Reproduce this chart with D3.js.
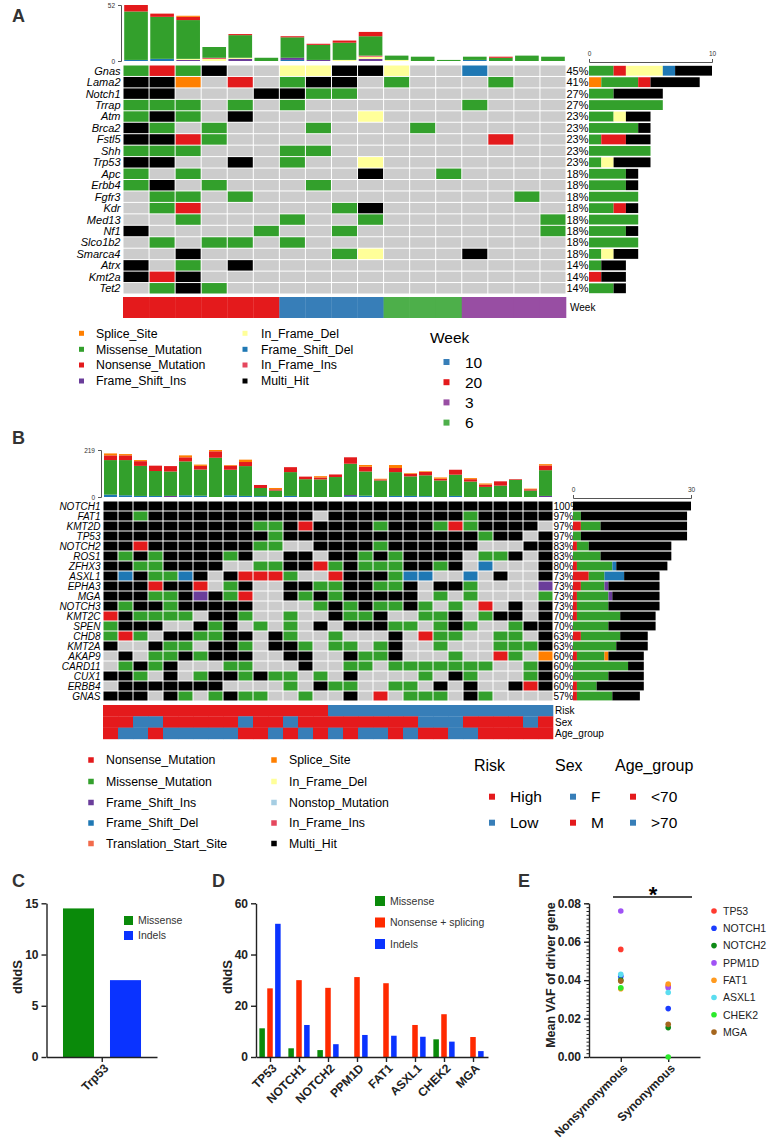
<!DOCTYPE html>
<html><head><meta charset="utf-8">
<script src="https://cdn.jsdelivr.net/npm/d3@7"></script>
<style>body{margin:0;background:#fff}svg{display:block}</style>
</head><body><svg id="c" width="782" height="1146"></svg>
<script>
// ---------------- DATA ----------------
const vcColor = {G:"#33A02C",R:"#E31A1C",O:"#FF7F00",B:"#1F78B4",P:"#6A3D9A",Y:"#FFFF99",I:"#E5475D",N:"#A6CEE3",T:"#F26B4B",K:"#000000"};
const vcName = {G:"Missense_Mutation",R:"Nonsense_Mutation",O:"Splice_Site",B:"Frame_Shift_Del",P:"Frame_Shift_Ins",Y:"In_Frame_Del",I:"In_Frame_Ins",N:"Nonstop_Mutation",T:"Translation_Start_Site",K:"Multi_Hit"};

// Panel A
const aGenes = ["Gnas","Lama2","Notch1","Trrap","Atm","Brca2","Fstl5","Shh","Trp53","Apc","Erbb4","Fgfr3","Kdr","Med13","Nf1","Slco1b2","Smarca4","Atrx","Kmt2a","Tet2"];
const aMatrix = [
"GRGK..YYKKY..B...","KKO.R.GKK.G...G..","KK...KKGG........","GGG.G.G......G...",
"GKG.K....Y.......","KG.G...G...G.....","KKRG..........R..","GGG...GG.........",
"KK..K.G..Y.......","G.G......K..G....","GK.G...G.........",".GG.G..........G.",
".GR.....GK.......","..G...G..G......G","K....G..G.......G",".G.GG.G..........",
"..K.....GY...K...","K.G.K............","KRK..............",".GKG............."];
const aTotalSamples = 22;
const aWeek = ["20","20","20","20","20","20","10","10","10","10","6","6","6","3","3","3","3"];
const aWeekLevels = ["10","20","3","6"];
const aWeekColors = ["#377EB8","#E41A1C","#984EA3","#4DAF4A"];
const aLegendCodes = ["O","G","R","P","Y","B","I","K"];
const aTmbMissense = [45,39,36,10,21,3,19,14,16,18,4,4,1,3,3,5,4];
const aTmbNonsense = [6,3,3,0,1,0,1,1,2,4,0,0,0,0,1,0,0];
const aTmbSplice   = [0,0,1,0,0,0,0,0,0,0,0,0,0,0,0,0,0];
const aTmbFSdel    = [1,2,0,0,0,0,1,0,0,0,0,0,0,1,0,0,0];
const aTmbFSins    = [0,0,1,0,2,0,2,1,0,2,0,0,0,0,0,0,0];
const aTmbIFdel    = [0,0,1,2,1,0,0,0,1,2,1,0,0,0,0,0,0];
const aTmbIFins    = [0,0,0,1,0,0,0,0,0,1,0,0,0,0,0,0,0];
const aTmbMax = 52, aRightMax = 10;

// Panel B
const bGenes = ["NOTCH1","FAT1","KMT2D","TP53","NOTCH2","ROS1","ZFHX3","ASXL1","EPHA3","MGA","NOTCH3","KMT2C","SPEN","CHD8","KMT2A","AKAP9","CARD11","CUX1","ERBB4","GNAS"];
const bMatrix = [
"KKKKK KKKKK KKKKK KKKKK KKKKK KKKKK",
"KKGKK KKKKK KKKK. KKKKK KKKKG KKKKK",
"KKKKK KKKKK GGKRK KKKGK KKGRG KKKK.",
"KKKKK KKKKK KGKKK KKKKK KKKKK GKK.K",
"KKRKK KKKKK GG..K KKKGK KKKKK ...KK",
"KGKGK KKKGK ..KK. KKGKG KKKK. GGK.K",
"KKGGK KKK.. GGKKR GKGGG KKGK. B...K",
"KBKGG BK.KR RRG.. RKKKG BB..B .K..K",
"KKKRK KR.GK ..KKG GKKGG K.KKG ....P",
"KKKGG KPKGR ..KGK GKKKK K.G.G ....G",
"KGKKG KKKKK ....G KGKGG KG.G. R.K.K",
"RKGGG G.KKG ..G.. KGGK. .GGK. GKK.K",
"GKKK. .KGK. G.G.K .KKKG G.GKG ..GKK",
"GRG.K KGGKK .KG.. G...K .RGG. .GG.K",
"K..KG G.KKG .KKG. GG.GK ..G.. .GGGK",
".K.GG KGKKK ..KK. .KGGK ...G. .RG.O",
".GKGK ...GG ...K. .GG.G GGGGG G..GK",
"KKG.K .GKKG KGG.G .K... .G.KG ...GK",
".KKKK KKK.. ..G.K GG..G G.K.K ..KRK",
"KKK.K G.GKG G..G. .K.R. GGG.K G...."];
const bTotalSamples = 30;
const bLegendCodes = ["R","G","P","B","T","O","Y","N","I","K"];
const bTmbMissense = [161,164,140,116,114,158,122,183,119,139,38,30,111,83,82,93,146,113,77,111,91,97,77,99,72,47,53,80,30,120];
const bTmbNonsense = [22,22,22,25,25,19,17,30,19,19,14,6,23,12,9,12,30,22,5,19,12,16,8,23,11,11,20,3,6,22];
const bTmbSplice   = [9,6,5,0,0,9,6,6,3,11,0,6,0,0,6,0,0,8,3,14,3,3,6,0,5,5,0,0,3,6];
const bTmbFSdel    = [11,8,5,5,0,8,6,0,8,5,4,0,5,0,0,0,4,6,0,5,5,4,0,5,0,0,0,0,0,0];
const bTmbFSins    = [0,0,0,0,5,0,0,0,0,0,0,0,0,0,0,0,5,0,0,0,0,0,0,0,0,0,0,0,0,5];
const bTmbMax = 219, bRightMax = 30;
const bRisk = ["High","High","High","High","High","High","High","High","High","High","High","High","High","High","High","Low","Low","Low","Low","Low","Low","Low","Low","Low","Low","Low","Low","Low","Low","Low"];
const bSex  = ["M","M","F","F","M","M","M","M","M","F","M","M","F","M","M","M","M","M","M","M","M","F","F","F","M","M","M","M","F","M"];
const bAge  = ["<70",">70",">70","<70",">70",">70",">70",">70",">70","<70","<70",">70","<70",">70","<70",">70","<70",">70",">70","<70",">70","<70","<70",">70",">70","<70","<70","<70","<70","<70"];
const bAnnoColors = {High:"#E41A1C",Low:"#377EB8",F:"#377EB8",M:"#E41A1C","<70":"#E41A1C",">70":"#377EB8"};

// Panel C
const cCategory = ["Trp53"];
const cSeries = ["Missense","Indels"];
const cValues = [14.5, 7.5];
const cColors = ["#0A8A0A","#0A33FF"];

// Panel D
const dGenes = ["TP53","NOTCH1","NOTCH2","PPM1D","FAT1","ASXL1","CHEK2","MGA"];
const dSeries = ["Missense","Nonsense + splicing","Indels"];
const dMissense = [11.2,3.4,2.7,0,0,0,6.9,0];
const dNonsense = [26.8,30,27,31.2,28.8,12.5,16.7,7.8];
const dIndels   = [52,12.5,5,8.6,8.3,7.9,6,2.3];
const dColors = ["#0A8A0A","#FF2A00","#0A33FF"];

// Panel E
const eGroups = ["Nonsynonymous","Synonymous"];
const eGenes = ["TP53","NOTCH1","NOTCH2","PPM1D","FAT1","ASXL1","CHEK2","MGA"];
const eNonsyn = [0.056,0.042,0.040,0.076,0.0355,0.043,0.036,0.0395];
const eSyn    = [0.037,0.0252,0.0153,0.036,0.038,0.0336,0.0,0.017];
const eColors = ["#FF3B30","#1B3DFF","#0E8A16","#A052F5","#FF9A1F","#5BDDF0","#2BEA2B","#A5661E"];

// ---------------- DRAW ----------------
const svg = d3.select("#c");
const SANS = '"Liberation Sans", Arial, Helvetica, sans-serif';
svg.attr("font-family", SANS);

function drawOnco(o){
  const g = svg.append("g");
  const rows = o.matrix.map(r => r.replace(/ /g,"").split(""));
  const n = rows[0].length;
  const x = d3.scaleBand().domain(d3.range(n)).range([o.gx0,o.gx1]);
  const y = d3.scaleBand().domain(o.genes).range([o.gy0,o.gy1]);
  const cells = [];
  o.genes.forEach((gn,gi)=>rows[gi].forEach((c,i)=>cells.push({gn,i,c})));
  g.selectAll("rect.cell").data(cells).join("rect")
    .attr("x",d=>x(d.i)+o.gap/2).attr("y",d=>y(d.gn)+o.gap/2)
    .attr("width",x.bandwidth()-o.gap).attr("height",y.bandwidth()-o.gap)
    .attr("fill",d=>d.c==="."?"#CCCCCC":vcColor[d.c]);
  g.selectAll("text.gene").data(o.genes).join("text")
    .attr("x",o.gx0-2.5).attr("y",d=>y(d)+y.bandwidth()/2).attr("dy","0.36em")
    .attr("text-anchor","end").attr("font-style","italic").attr("font-size",o.fs).text(d=>d);
  const counts = rows.map(r=>{const m={};r.forEach(c=>{if(c!==".")m[c]=(m[c]||0)+1;});return m;});
  const totals = counts.map(m=>d3.sum(Object.values(m)));
  g.selectAll("text.pct").data(totals).join("text")
    .attr("x",o.gx1+0.5).attr("y",(d,i)=>y(o.genes[i])+y.bandwidth()/2).attr("dy","0.36em")
    .attr("font-size",o.fs).text(d=>Math.round(d/o.nTotal*100)+"%");
  const xr = d3.scaleLinear().domain([0,o.rMax]).range([o.rx0,o.rx1]);
  const segs=[];
  o.genes.forEach((gn,gi)=>{let acc=0;o.legendCodes.forEach(c=>{const v=counts[gi][c]||0;if(v>0){segs.push({gn,c,a:acc,b:acc+v});acc+=v;}});});
  g.selectAll("rect.rb").data(segs).join("rect")
    .attr("x",d=>xr(d.a)).attr("width",d=>xr(d.b)-xr(d.a))
    .attr("y",d=>y(d.gn)+o.rPad).attr("height",y.bandwidth()-2*o.rPad)
    .attr("fill",d=>vcColor[d.c]);
  const ra = g.append("g").attr("transform",`translate(0,${o.rAxisY})`)
    .call(d3.axisTop(xr).tickValues([0,o.rMax]).tickSize(3).tickSizeOuter(3));
  ra.selectAll("text").attr("font-size",6.5).attr("font-family",SANS).attr("fill","#333");
  ra.selectAll("path,line").attr("stroke","#555");
  const ty = d3.scaleLinear().domain([0,o.tMax]).range([o.ty0,o.ty1]);
  const keys = Object.keys(o.tmb);
  const data = d3.range(n).map(i=>{const d={i};keys.forEach(k=>d[k]=o.tmb[k][i]);return d;});
  const series = d3.stack().keys(keys)(data);
  g.selectAll("g.tb").data(series).join("g").attr("fill",s=>vcColor[s.key])
    .selectAll("rect").data(s=>s).join("rect")
    .attr("x",d=>x(d.data.i)+o.tbPad).attr("width",x.bandwidth()-2*o.tbPad)
    .attr("y",d=>ty(d[1])).attr("height",d=>Math.max(0,ty(d[0])-ty(d[1])));
  const ta = g.append("g").attr("transform",`translate(${o.tAxisX},0)`)
    .call(d3.axisLeft(ty).tickValues([0,o.tMax]).tickSize(3).tickSizeOuter(3));
  ta.selectAll("text").attr("font-size",6.5).attr("font-family",SANS).attr("fill","#333");
  ta.selectAll("path,line").attr("stroke","#555");
  return {x,y,g};
}

// Panel A
const A = drawOnco({genes:aGenes,matrix:aMatrix,gx0:123,gx1:566,gy0:65,gy1:294,gap:1,fs:11,
  nTotal:aTotalSamples,rMax:aRightMax,rx0:589,rx1:712,rPad:0.8,rAxisY:62,legendCodes:aLegendCodes,
  tMax:aTmbMax,ty0:61,ty1:5,tAxisX:121,tbPad:1.2,
  tmb:{B:aTmbFSdel,P:aTmbFSins,Y:aTmbIFdel,I:aTmbIFins,G:aTmbMissense,R:aTmbNonsense,O:aTmbSplice}});
const wColor = d3.scaleOrdinal().domain(aWeekLevels).range(aWeekColors);
A.g.selectAll("rect.week").data(aWeek).join("rect")
  .attr("x",(d,i)=>A.x(i)).attr("width",A.x.bandwidth()+0.3).attr("y",297).attr("height",21)
  .attr("fill",d=>wColor(d));
A.g.append("text").attr("x",570).attr("y",311).attr("font-size",10).text("Week");

// Panel B
const B = drawOnco({genes:bGenes,matrix:bMatrix,gx0:103,gx1:553,gy0:501,gy1:701,gap:1,fs:10,
  nTotal:bTotalSamples,rMax:bRightMax,rx0:573,rx1:691,rPad:0.6,rAxisY:498,legendCodes:bLegendCodes,
  tMax:bTmbMax,ty0:497,ty1:450,tAxisX:101,tbPad:1,
  tmb:{B:bTmbFSdel,P:bTmbFSins,G:bTmbMissense,R:bTmbNonsense,O:bTmbSplice}});
const annos = [["Risk",bRisk],["Sex",bSex],["Age_group",bAge]];
const ay = d3.scaleBand().domain(annos.map(a=>a[0])).range([705,739]);
annos.forEach(([name,vals])=>{
  B.g.selectAll("rect.an"+name).data(vals).join("rect")
    .attr("x",(d,i)=>B.x(i)).attr("width",B.x.bandwidth()+0.3)
    .attr("y",ay(name)).attr("height",ay.bandwidth()+0.2).attr("fill",d=>bAnnoColors[d]);
  B.g.append("text").attr("x",555).attr("y",ay(name)+ay.bandwidth()/2).attr("dy","0.36em")
    .attr("font-size",10).text(name);
});

// Panel labels
[["A",12,22],["B",12,444],["C",12,887],["D",212,887],["E",518,887]].forEach(([t,x,y])=>{
  svg.append("text").attr("x",x).attr("y",y).attr("font-size",18).attr("font-weight","bold")
    .attr("fill","#333").text(t);
});

// Legends
function legendList(items, mx, lx, ys, fs, ms){
  items.forEach((c,i)=>{
    svg.append("rect").attr("x",mx-ms/2).attr("y",ys[i]-ms/2).attr("width",ms).attr("height",ms).attr("fill",vcColor[c]);
    svg.append("text").attr("x",lx).attr("y",ys[i]).attr("dy","0.36em").attr("font-size",fs).text(vcName[c]);
  });
}
const aLegRows = [333.3,349.3,365,381];
legendList(aLegendCodes.slice(0,4),81.5,96,aLegRows,12.3,5);
legendList(aLegendCodes.slice(4),245,261,aLegRows,12.3,5);
svg.append("text").attr("x",430).attr("y",337).attr("dy","0.36em").attr("font-size",15.5).text("Week");
aWeekLevels.forEach((w,i)=>{
  const yy=362+20.2*i;
  svg.append("rect").attr("x",443.5).attr("y",yy-3).attr("width",6).attr("height",6).attr("fill",aWeekColors[i]);
  svg.append("text").attr("x",465).attr("y",yy).attr("dy","0.36em").attr("font-size",15.5).text(w);
});

const bLegRows = [760,781.5,802.5,823,843.5];
legendList(bLegendCodes.slice(0,5),91,106,bLegRows,12.3,5.5);
legendList(bLegendCodes.slice(5),274,289,bLegRows,12.3,5.5);
const annoLeg = [["Risk",474,["High","Low"]],["Sex",555,["F","M"]],["Age_group",615,["<70",">70"]]];
annoLeg.forEach(([t,x,levels])=>{
  svg.append("text").attr("x",x).attr("y",765).attr("dy","0.36em").attr("font-size",16).text(t);
  levels.forEach((l,i)=>{
    const yy=796.7+26*i;
    svg.append("rect").attr("x",x+15).attr("y",yy-3).attr("width",6).attr("height",6).attr("fill",bAnnoColors[l]);
    svg.append("text").attr("x",x+36).attr("y",yy).attr("dy","0.36em").attr("font-size",15.5).text(l);
  });
});

// Common axis styling for C-E
function styleAxis(sel){
  sel.selectAll("path,line").attr("stroke","#222").attr("stroke-width",1.4);
  sel.selectAll("text").attr("font-size",12).attr("font-weight","bold").attr("font-family",SANS).attr("fill","#222");
}
function yLabel(text,x,y,fs){
  svg.append("text").attr("transform",`translate(${x},${y}) rotate(-90)`).attr("text-anchor","middle")
    .attr("font-size",fs).attr("font-weight","bold").attr("fill","#222").text(text);
}
function rotLabels(sel){
  sel.selectAll("text").attr("transform","rotate(-45)").attr("text-anchor","end").attr("dx","-0.3em").attr("dy","0.45em");
}

// Panel C
const cy = d3.scaleLinear().domain([0,15]).range([1057,903.3]);
const cx = d3.scaleBand().domain(cSeries).range([55,149]).paddingInner(0.34).paddingOuter(0.17);
svg.selectAll("rect.cbar").data(cValues).join("rect")
  .attr("x",(d,i)=>cx(cSeries[i])).attr("width",cx.bandwidth())
  .attr("y",d=>cy(d)).attr("height",d=>cy(0)-cy(d)).attr("fill",(d,i)=>cColors[i]);
styleAxis(svg.append("g").attr("transform","translate(46.5,0)").call(d3.axisLeft(cy).tickValues([0,5,10,15]).tickSize(5).tickSizeOuter(0)));
const cxa = d3.scalePoint().domain(cCategory).range([46.5,157]).padding(0.5);
const cxAxis = svg.append("g").attr("transform","translate(0,1057)").call(d3.axisBottom(cxa).tickSize(5).tickSizeOuter(0));
styleAxis(cxAxis); rotLabels(cxAxis);
yLabel("dNdS",22,977,13);
cSeries.forEach((s,i)=>{
  svg.append("rect").attr("x",124).attr("y",916+15*i).attr("width",9).attr("height",9).attr("fill",cColors[i]);
  svg.append("text").attr("x",138).attr("y",920.5+15*i).attr("dy","0.36em").attr("font-size",10.5).attr("fill","#333").text(s);
});

// Panel D
const dy_ = d3.scaleLinear().domain([0,60]).range([1057,903.3]);
const dx = d3.scaleBand().domain(dGenes).range([256,488]);
const dsub = d3.scaleBand().domain(dSeries).range([1,27]).padding(0.3);
const dVals = [dMissense,dNonsense,dIndels];
const dBars=[];
dGenes.forEach((gn,gi)=>dSeries.forEach((s,si)=>dBars.push({gn,s,si,v:dVals[si][gi]})));
svg.selectAll("rect.dbar").data(dBars.filter(d=>d.v>0)).join("rect")
  .attr("x",d=>dx(d.gn)+dsub(d.s)).attr("width",dsub.bandwidth())
  .attr("y",d=>dy_(d.v)).attr("height",d=>dy_(0)-dy_(d.v)).attr("fill",d=>dColors[d.si]);
styleAxis(svg.append("g").attr("transform","translate(256,0)").call(d3.axisLeft(dy_).tickValues([0,20,40,60]).tickSize(5).tickSizeOuter(0)));
const dxAxis = svg.append("g").attr("transform","translate(0,1057)").call(d3.axisBottom(dx).tickSize(5).tickSizeOuter(0));
styleAxis(dxAxis); rotLabels(dxAxis);
yLabel("dNdS",232,977,13);
dSeries.forEach((s,i)=>{
  svg.append("rect").attr("x",375).attr("y",896+21.5*i).attr("width",10).attr("height",10).attr("fill",dColors[i]);
  svg.append("text").attr("x",390).attr("y",901+21.5*i).attr("dy","0.36em").attr("font-size",10.5).attr("fill","#333").text(s);
});

// Panel E
const ey = d3.scaleLinear().domain([0,0.08]).range([1057,903.3]);
const ex = d3.scalePoint().domain(eGroups).range([589,700]).padding(0.67);
const eyAxis = svg.append("g").attr("transform","translate(589,0)")
  .call(d3.axisLeft(ey).tickValues([0,0.02,0.04,0.06,0.08]).tickFormat(d3.format(".2f")).tickSize(5).tickSizeOuter(0));
styleAxis(eyAxis);
svg.append("g").attr("transform","translate(589,0)")
  .call(d3.axisLeft(ey).ticks(40).tickFormat("").tickSize(2.5).tickSizeOuter(0))
  .selectAll("path,line").attr("stroke","#222").attr("stroke-width",1);
const exAxis = svg.append("g").attr("transform","translate(0,1057)").call(d3.axisBottom(ex).tickSize(5).tickSizeOuter(0));
styleAxis(exAxis); rotLabels(exAxis);
yLabel("Mean VAF of driver gene",555,975,12.5);
const ePts=[];
eGenes.forEach((gn,i)=>{ePts.push({g:eGroups[0],v:eNonsyn[i],c:eColors[i]});ePts.push({g:eGroups[1],v:eSyn[i],c:eColors[i]});});
svg.selectAll("circle.ep").data(ePts).join("circle")
  .attr("cx",d=>ex(d.g)).attr("cy",d=>ey(d.v)).attr("r",2.8).attr("fill",d=>d.c);
svg.append("line").attr("x1",613).attr("x2",692).attr("y1",897).attr("y2",897).attr("stroke","#111").attr("stroke-width",1.5);
svg.append("text").attr("x",653).attr("y",902).attr("text-anchor","middle").attr("font-size",22).attr("font-weight","bold").text("*");
eGenes.forEach((gn,i)=>{
  svg.append("circle").attr("cx",714).attr("cy",911+17.3*i).attr("r",2.8).attr("fill",eColors[i]);
  svg.append("text").attr("x",723).attr("y",911+17.3*i).attr("dy","0.36em").attr("font-size",10.5).attr("fill","#222").text(gn);
});
</script></body></html>
